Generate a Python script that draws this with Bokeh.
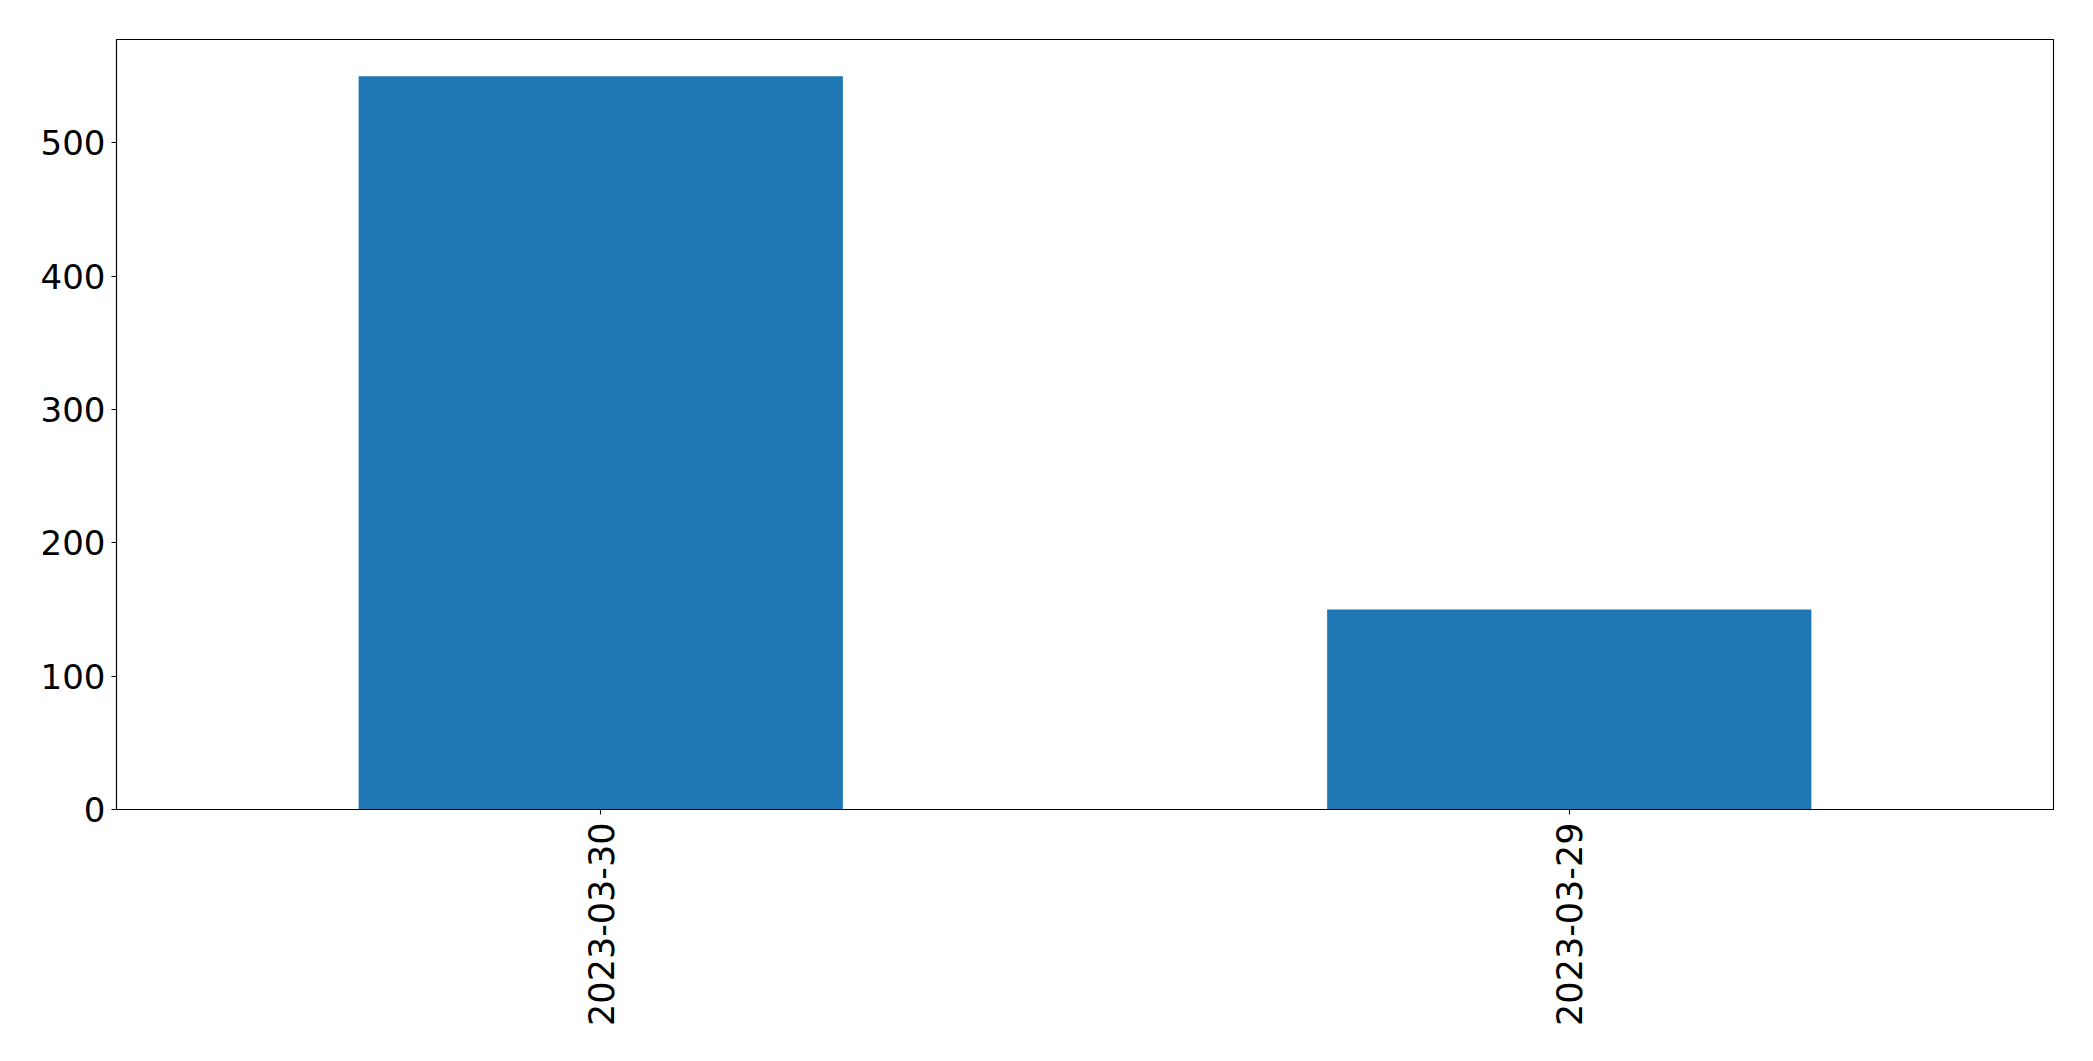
import math
from bokeh.plotting import figure
from bokeh.models import Range1d, FactorRange, FixedTicker, ColumnDataSource
from bokeh.embed import file_html
from bokeh.resources import INLINE

dates = ["2023-03-30", "2023-03-29"]
counts = [550, 150]
y_ticks = [0, 100, 200, 300, 400, 500]

source = ColumnDataSource(data=dict(dates=dates, counts=counts))

p = figure(
    x_range=FactorRange(*dates),
    y_range=Range1d(0, max(counts) * 1.05),
    width=2077, height=1045,
    output_backend="svg", toolbar_location=None,
    min_border_left=116, min_border_right=24,
    min_border_top=39, min_border_bottom=236,
)
p.vbar(x="dates", top="counts", width=0.5, source=source,
       fill_color="#1f77b4", line_color=None)

p.xgrid.visible = False
p.ygrid.visible = False
p.outline_line_color = "black"
p.outline_line_width = 1.1
p.outline_line_alpha = 1.0

p.yaxis.ticker = FixedTicker(ticks=y_ticks)
for ax in (p.xaxis[0], p.yaxis[0]):
    ax.axis_line_color = "black"
    ax.axis_line_width = 1.1
    ax.major_tick_line_color = "black"
    ax.major_tick_line_width = 1.1
    ax.major_tick_out = 5
    ax.major_tick_in = 0
    ax.minor_tick_line_color = None
    ax.major_label_text_font = "DejaVu Sans"
    ax.major_label_text_font_size = "34px"
    ax.major_label_text_color = "black"

p.xaxis.major_label_text_font_size = "35px"
p.xaxis.major_label_orientation = math.pi / 2
p.xaxis.major_label_standoff = 8
p.yaxis.major_label_standoff = 6

open("out.html", "w").write(file_html(p, INLINE))
